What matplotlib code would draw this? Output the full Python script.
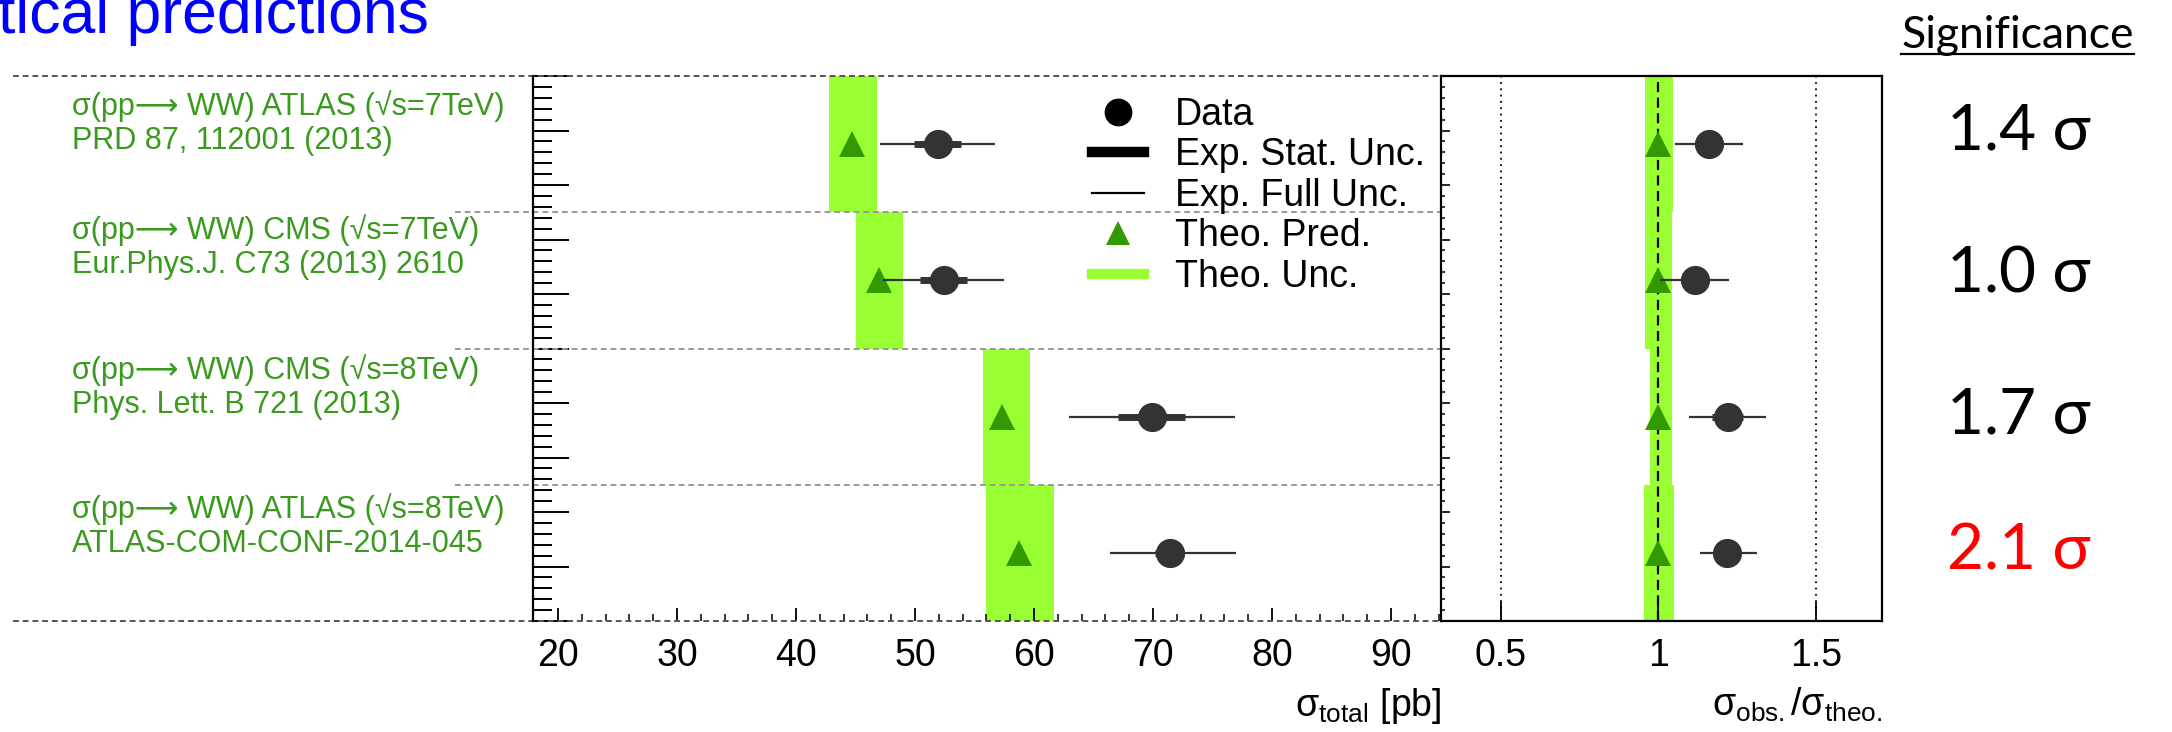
import matplotlib
matplotlib.use("Agg")
import matplotlib.pyplot as plt
from matplotlib.lines import Line2D
import numpy as np

plt.rcParams['font.family'] = ['Liberation Sans', 'DejaVu Sans']
plt.rcParams['mathtext.fontset'] = 'custom'
plt.rcParams['mathtext.rm'] = 'Liberation Sans'
plt.rcParams['mathtext.it'] = 'Liberation Sans:italic'
plt.rcParams['mathtext.bf'] = 'Liberation Sans:bold'

# measurements, one per row (top to bottom)
labels_top = ["σ(pp⟶ WW) ATLAS (√s=7TeV)",
              "σ(pp⟶ WW) CMS (√s=7TeV)",
              "σ(pp⟶ WW) CMS (√s=8TeV)",
              "σ(pp⟶ WW) ATLAS (√s=8TeV)"]
labels_ref = ["PRD 87, 112001 (2013)",
              "Eur.Phys.J. C73 (2013) 2610",
              "Phys. Lett. B 721 (2013)",
              "ATLAS-COM-CONF-2014-045"]
measured = np.array([51.9, 52.4, 69.9, 71.4])
stat_unc = np.array([2.0, 2.0, 2.8, 1.2])
full_lo = np.array([4.8, 5.1, 7.0, 5.0])
full_hi = np.array([4.8, 5.1, 7.0, 5.6])
theory = np.array([44.7, 47.0, 57.3, 58.7])
theo_lo = np.array([1.9, 2.0, 1.6, 2.7])
theo_hi = np.array([2.1, 2.0, 2.4, 3.0])
significance = ["1.4 σ", "1.0 σ", "1.7 σ", "2.1 σ"]
sig_colors = ["black", "black", "black", "red"]

band_col = "#99ff33"
tri_col = "#339900"
dat_col = "#333333"
lab_col = "#3a9a1e"

n = len(measured)
row_h = 2.5
ys = 10 - row_h * (np.arange(n) + 0.5)

ratio = measured / theory

fig = plt.figure(figsize=(21.72, 7.32), dpi=100)
W, H = 2172, 732
ax1 = fig.add_axes([533 / W, 1 - 621 / H, 908 / W, 545 / H])
ax2 = fig.add_axes([1441 / W, 1 - 621 / H, 441 / W, 545 / H])

# ---- left panel: absolute cross sections
for i in range(n):
    ax1.fill_betweenx([ys[i] - row_h / 2, ys[i] + row_h / 2],
                      theory[i] - theo_lo[i], theory[i] + theo_hi[i],
                      color=band_col, lw=0, zorder=1)
ax1.plot(theory, ys, "^", ms=18.5, color=tri_col, mew=0, zorder=3)
ax1.hlines(ys, measured - full_lo, measured + full_hi, color=dat_col, lw=1.6, zorder=4)
ax1.hlines(ys, measured - stat_unc, measured + stat_unc, color=dat_col, lw=5, zorder=4)
ax1.plot(measured, ys, "o", ms=21, color=dat_col, mew=0, zorder=5)

ax1.set_xlim(17.9, 94.2)
ax1.set_ylim(0, 10)

# row separators, running into the label area
dash = (0, (3, 2))
for b in [10 - row_h * k for k in range(1, n)]:
    ax1.axhline(b, xmin=(455 - 533) / 908, xmax=1, color="#999999", lw=1.4,
                ls=dash, clip_on=False, zorder=2)
for b in [0, 10]:
    ax1.axhline(b, xmin=(13 - 533) / 908, xmax=1, color="#555555", lw=1.4,
                ls=dash, clip_on=False, zorder=2)

for s in ["top", "bottom", "right"]:
    ax1.spines[s].set_visible(False)
ax1.spines["left"].set_linewidth(1.6)

ax1.set_xticks(np.arange(20, 91, 10))
ax1.set_xticks(np.arange(20, 95, 2), minor=True)
ax1.set_yticks(np.arange(0, 11, 1))
ax1.set_yticks(np.arange(0, 10.01, 0.2), minor=True)
ax1.tick_params(axis="x", which="major", direction="in", length=9.5, width=1.3,
                labelsize=27, pad=12)
ax1.tick_params(axis="x", which="minor", direction="in", length=5, width=1.1)
ax1.tick_params(axis="y", which="major", direction="in", length=26, width=1.4,
                labelleft=False)
ax1.tick_params(axis="y", which="minor", direction="in", length=14, width=1.4)
ax1.set_xlabel("σ$_{\\rm total}$ [pb]", loc="right", fontsize=27, labelpad=9)

# measurement labels on the left
lab_dy = [30, 18, 22, 24]
for i in range(n):
    top = 10 - row_h * i
    y1 = top - lab_dy[i] / 54.5
    ax1.text(-0.5077, y1, labels_top[i], transform=ax1.get_yaxis_transform(),
             fontsize=22, color=lab_col, va="center", ha="left")
    ax1.text(-0.5077, y1 - 35 / 54.5, labels_ref[i], transform=ax1.get_yaxis_transform(),
             fontsize=22, color=lab_col, va="center", ha="left")

handles = [
    Line2D([], [], ls="none", marker="o", ms=20, color="black", mew=0),
    Line2D([], [], color="black", lw=7.5),
    Line2D([], [], color="black", lw=1.6),
    Line2D([], [], ls="none", marker="^", ms=17, color=tri_col, mew=0),
    Line2D([], [], color=band_col, lw=7.5),
]
ax1.legend(handles, ["Data", "Exp. Stat. Unc.", "Exp. Full Unc.", "Theo. Pred.", "Theo. Unc."],
           loc="upper left", bbox_to_anchor=(0.6156, 0.962), frameon=False, fontsize=27,
           handlelength=1.39, handletextpad=0.83, labelspacing=0.12,
           borderpad=0, borderaxespad=0)

# ---- right panel: ratio to theory
for i in range(n):
    ax2.fill_betweenx([ys[i] - row_h / 2, ys[i] + row_h / 2],
                      (theory[i] - theo_lo[i]) / theory[i], (theory[i] + theo_hi[i]) / theory[i],
                      color=band_col, lw=0, zorder=1)
ax2.axvline(1, color="black", lw=1.6, ls=(0, (4.5, 2.5)), zorder=2)
ax2.axvline(0.5, color="black", lw=1.3, ls=(0, (1, 2.5)), zorder=2)
ax2.axvline(1.5, color="black", lw=1.3, ls=(0, (1, 2.5)), zorder=2)
ax2.plot(np.ones(n), ys, "^", ms=18.5, color=tri_col, mew=0, zorder=3)
ax2.hlines(ys, (measured - full_lo) / theory, (measured + full_hi) / theory,
           color=dat_col, lw=1.6, zorder=4)
ax2.hlines(ys, (measured - stat_unc) / theory, (measured + stat_unc) / theory,
           color=dat_col, lw=5, zorder=4)
ax2.plot(ratio, ys, "o", ms=21, color=dat_col, mew=0, zorder=5)

ax2.set_xlim(0.31, 1.71)
ax2.set_ylim(0, 10)
for s in ax2.spines.values():
    s.set_linewidth(1.6)
ax2.set_xticks([0.5, 1, 1.5])
ax2.set_xticklabels(["0.5", "1", "1.5"])
ax2.set_yticks(np.arange(0, 11, 1))
ax2.set_yticks(np.arange(0, 10.01, 0.2), minor=True)
ax2.tick_params(axis="x", which="major", direction="in", length=13.5, width=1.3,
                labelsize=27, pad=12)
ax2.tick_params(axis="y", which="major", direction="in", length=6.5, width=1.2,
                labelleft=False)
ax2.tick_params(axis="y", which="minor", direction="in", length=3, width=1.1)
ax2.set_xlabel("σ$_{\\rm obs.}$/σ$_{\\rm theo.}$", loc="right", fontsize=27, labelpad=9)

# ---- slide decorations
fig.text(-2 / W, 1 - 33 / H, "tical predictions", fontsize=45, color="#0000ff",
         va="baseline", ha="left")

sig_font = ["Lato", "DejaVu Sans"]
t = fig.text(1901 / W, 1 - 48 / H, "Significance", fontsize=32, va="baseline",
             ha="left", family=sig_font)
fig.canvas.draw()
bb = t.get_window_extent(fig.canvas.get_renderer())
fig.add_artist(Line2D([bb.x0 / W, bb.x1 / W], [1 - 54 / H] * 2, color="black", lw=1.6))

sig_y = [131, 274, 416, 551]
for i in range(n):
    fig.text(1947 / W, 1 - sig_y[i] / H, significance[i], fontsize=46, va="center",
             ha="left", color=sig_colors[i], family=sig_font)

fig.savefig("out.png", dpi=100)
